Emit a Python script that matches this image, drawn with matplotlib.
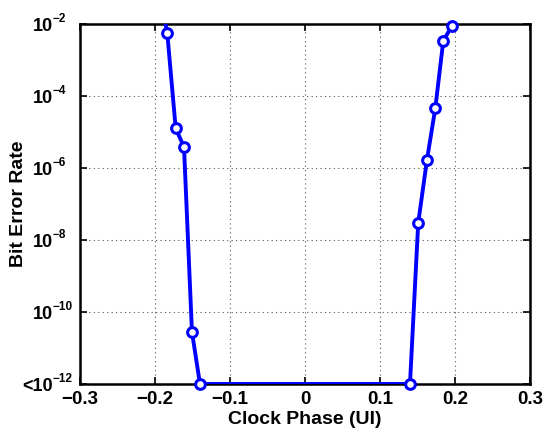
import matplotlib
matplotlib.use("Agg")
import matplotlib.pyplot as plt
import matplotlib.transforms as mtransforms
import numpy as np

plt.rcParams['font.family'] = ['Liberation Sans', 'DejaVu Sans']
plt.rcParams['font.weight'] = 'bold'

# Clock phase (UI) and measured bit error rate; 1e-12 marks "no errors seen"
phase = [-0.195, -0.1836, -0.1724, -0.1613, -0.1507, -0.14,
         0.14, 0.151, 0.1627, 0.1738, 0.1844, 0.1956]
ber = [1e-1, 5.5e-3, 1.27e-5, 3.8e-6, 2.8e-11, 1e-12,
       1e-12, 3e-8, 1.7e-6, 4.6e-5, 3.4e-3, 8.6e-3]

xticks = [-0.3, -0.2, -0.1, 0, 0.1, 0.2, 0.3]
xticklabels = ['\u22120.3', '\u22120.2', '\u22120.1', '0', '0.1', '0.2', '0.3']
yticks = [1e-12, 1e-10, 1e-8, 1e-6, 1e-4, 1e-2]
ytick_prefix = ['<', '', '', '', '', '']
ytick_exponents = ['\u221212', '\u221210', '\u22128', '\u22126', '\u22124', '\u22122']

fig = plt.figure(figsize=(5.43, 4.34), dpi=100)
ax = fig.add_axes([0.1473, 0.1152, 0.8287, 0.8295])

ax.set_yscale('log')
ax.set_xlim(-0.3, 0.3)
ax.set_ylim(1e-12, 1e-2)

ax.plot(phase, ber, color='#0000ff', lw=2.8, zorder=3)
x = np.array(phase)
y = np.array(ber)
vis = y <= 1e-2
ax.plot(x[vis], y[vis], ls='none', marker='o', ms=7, mew=2.2,
        mec='#0000ff', mfc='white', clip_on=False, zorder=4)

ax.set_xticks(xticks)
ax.set_xticklabels(xticklabels)
ax.set_yticks(yticks)
ax.set_yticklabels([''] * len(yticks))
ax.yaxis.set_minor_locator(matplotlib.ticker.NullLocator())

ax.tick_params(which='major', direction='in', length=5, width=1.2,
               top=True, right=True, labelsize=13.5, pad=5)
for lab in ax.get_xticklabels():
    lab.set_fontweight('bold')

# y tick labels as power-of-ten text with a small raised exponent
base_tr = mtransforms.blended_transform_factory(ax.transAxes, ax.transData)
for val, pre, ex in zip(yticks, ytick_prefix, ytick_exponents):
    tr_base = mtransforms.offset_copy(base_tr, fig=fig, x=-27, y=-6.5, units='dots')
    ax.text(0, val, pre + '10', transform=tr_base, ha='right', va='baseline',
            fontsize=13, fontweight='bold', clip_on=False)
    tr_exp = mtransforms.offset_copy(base_tr, fig=fig, x=-27, y=2, units='dots')
    ax.text(0, val, ex, transform=tr_exp, ha='left', va='baseline',
            fontsize=8.5, fontweight='bold', clip_on=False)

for s in ax.spines.values():
    s.set_linewidth(1.8)

ax.grid(True, which='major', color='#555555', ls=(0, (1, 3)), lw=0.8)

ax.set_xlabel('Clock Phase (UI)', fontsize=14, fontweight='bold', labelpad=2)
ax.set_ylabel('Bit Error Rate', fontsize=14, fontweight='bold')
ax.yaxis.set_label_coords(-0.118, 0.5)

fig.savefig('out.png', dpi=100)
